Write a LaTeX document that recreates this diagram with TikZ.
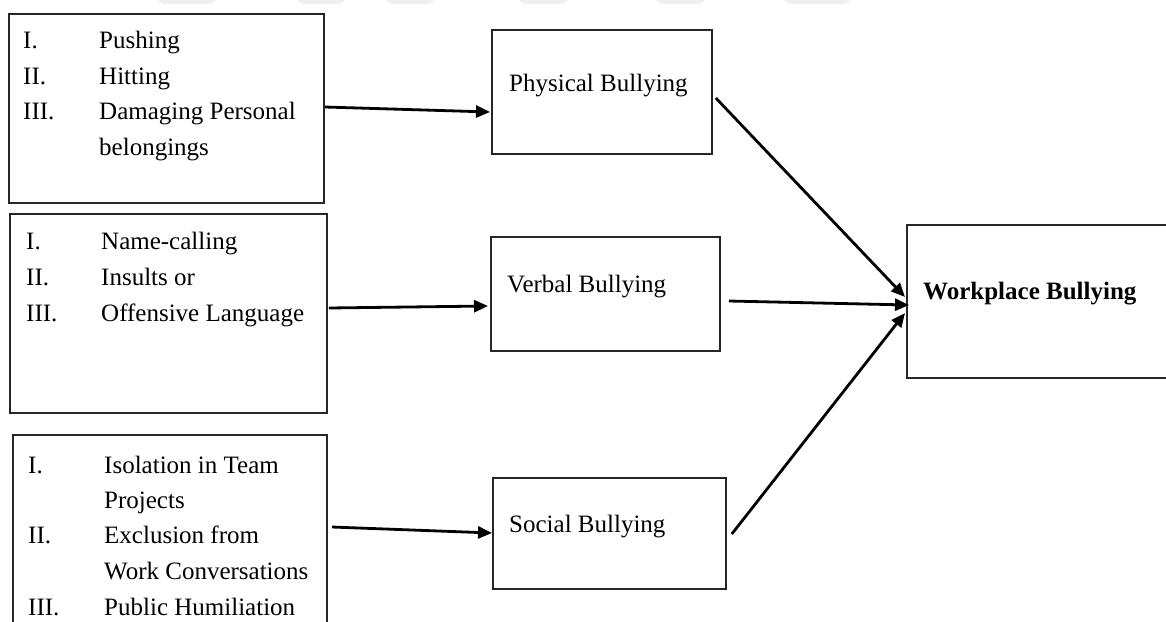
\documentclass[tikz,border=0pt]{standalone}
\usepackage{fontspec}
\setmainfont{Liberation Serif}
\usetikzlibrary{arrows.meta,calc}
\begin{document}
\begin{tikzpicture}[x=1pt,y=-1pt,
  frame/.style={draw=black!85, line width=1.8pt, rectangle, inner sep=0pt, anchor=north west},
  txt/.style={anchor=base west, inner sep=0pt, font=\fontsize{25}{36}\selectfont, text=black},
  btxt/.style={anchor=base west, inner sep=0pt, font=\fontsize{25}{36}\selectfont\bfseries, text=black},
  conn/.style={line width=2.8pt, -{Triangle[length=14pt,width=12pt]}},
  wm/.style={fill=black!6, draw=none}]
\useasboundingbox (0,0) rectangle (1166,621);
\clip (0,0) rectangle (1166,621);
% faint watermark strip
\fill[wm] (158,0) -- (216,0) -- (211,4) -- (163,4) -- cycle;
\fill[wm] (297,0) -- (345,0) -- (340,4) -- (302,4) -- cycle;
\fill[wm] (386,0) -- (434,0) -- (429,4) -- (391,4) -- cycle;
\fill[wm] (519,0) -- (568,0) -- (563,4) -- (524,4) -- cycle;
\fill[wm] (656,0) -- (705,0) -- (700,4) -- (661,4) -- cycle;
\fill[wm] (784,0) -- (850,0) -- (845,4) -- (789,4) -- cycle;
% boxes
\node[frame, minimum width=315pt, minimum height=189pt] (b1) at (8,13) {};
\node[frame, minimum width=317pt, minimum height=199pt] (b2) at (9,213) {};
\node[frame, minimum width=314pt, minimum height=220pt] (b3) at (12,434) {};
\node[frame, minimum width=220pt, minimum height=124pt] (phys) at (491,29) {};
\node[frame, minimum width=229pt, minimum height=114pt] (verb) at (490,236) {};
\node[frame, minimum width=233pt, minimum height=111pt] (soc) at (492,477) {};
\node[frame, minimum width=280pt, minimum height=153pt] (work) at (906,224) {};
% box 1 text
\node[txt] (b1n1) at (23,48) {I.};
\node[txt] (b1t1) at (99,48) {Pushing};
\node[txt] (b1n2) at (23,84) {II.};
\node[txt] (b1t2) at (99,84) {Hitting};
\node[txt] (b1n3) at (23,119) {III.};
\node[txt] (b1t3) at (99,119) {Damaging Personal};
\node[txt] (b1t4) at (99,155) {belongings};
% box 2 text
\node[txt] (b2n1) at (26,249) {I.};
\node[txt] (b2t1) at (101,249) {Name-calling};
\node[txt] (b2n2) at (26,285) {II.};
\node[txt] (b2t2) at (101,285) {Insults or};
\node[txt] (b2n3) at (26,321) {III.};
\node[txt] (b2t3) at (101,321) {Offensive Language};
% box 3 text
\node[txt] (b3n1) at (28,473) {I.};
\node[txt] (b3t1) at (104,473) {Isolation in Team};
\node[txt] (b3t2) at (104,508) {Projects};
\node[txt] (b3n2) at (28,543) {II.};
\node[txt] (b3t3) at (104,543) {Exclusion from};
\node[txt] (b3t4) at (104,579) {Work Conversations};
\node[txt] (b3n3) at (28,615) {III.};
\node[txt] (b3t5) at (104,615) {Public Humiliation};
% middle labels
\node[txt] (physl) at (509,91) {Physical Bullying};
\node[txt] (verbl) at (507,292) {Verbal Bullying};
\node[txt] (socl) at (509,532) {Social Bullying};
\node[btxt] (workl) at (923,299) {Workplace Bullying};
% connectors
\draw[conn] ($(b1.north east)+(0,94)$) -- ($(phys.north west)+(-1,83)$);
\draw[conn] ($(b2.north east)+(1,95)$) -- ($(verb.north west)+(-2,70)$);
\draw[conn] ($(b3.north east)+(4,93)$) -- ($(soc.north west)+(0,56)$);
\draw[conn] ($(phys.north east)+(3,69)$) -- ($(work.north west)+(-1,73)$);
\draw[conn] ($(verb.north east)+(8,65)$) -- ($(work.north west)+(3,81)$);
\draw[conn] ($(soc.north east)+(5,57)$) -- ($(work.north west)+(-1,89)$);
\end{tikzpicture}
\end{document}
